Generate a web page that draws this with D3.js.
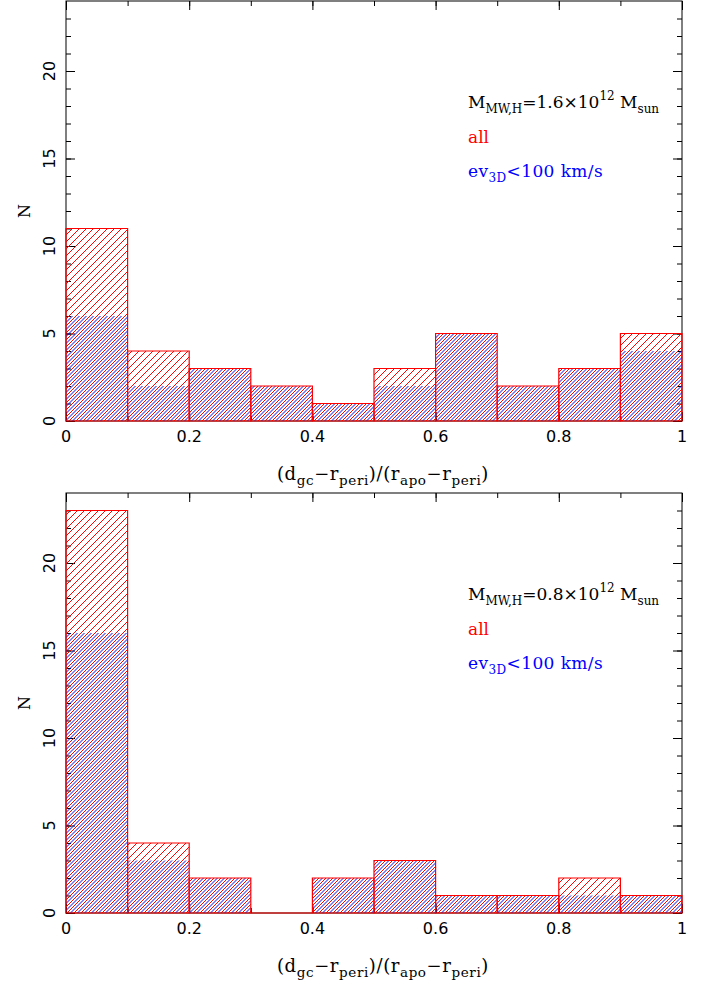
<!DOCTYPE html>
<html>
<head>
<meta charset="utf-8">
<script src="https://cdn.jsdelivr.net/npm/d3@7/dist/d3.min.js"></script>
<style>
  html, body { margin: 0; padding: 0; background: #fff; }
  svg { display: block; }
</style>
</head>
<body>
<svg id="chart" width="708" height="988"></svg>
<script>
// Histogram bins over the normalised orbital phase
const binEdges = [0, 0.1, 0.2, 0.3, 0.4, 0.5, 0.6, 0.7, 0.8, 0.9, 1.0];

// Upper panel: M_MW,H = 1.6e12 Msun
const allHigh = [11, 4, 3, 2, 1, 3, 5, 2, 3, 5];
const lowEvHigh = [6, 2, 3, 2, 1, 2, 5, 2, 3, 4];

// Lower panel: M_MW,H = 0.8e12 Msun
const allLow = [23, 4, 2, 0, 2, 3, 1, 1, 2, 1];
const lowEvLow = [16, 3, 2, 0, 2, 3, 1, 1, 1, 1];

const massLabels = ["1.6", "0.8"];
const xTickLabels = ["0", "0.2", "0.4", "0.6", "0.8", "1"];
const yTickLabels = ["0", "5", "10", "15", "20"];

const svg = d3.select("#chart");
const defs = svg.append("defs");

// Diagonal hatch patterns; blue lines sit halfway between the red ones
function hatch(id, color, offset) {
  const p = defs.append("pattern")
    .attr("id", id)
    .attr("patternUnits", "userSpaceOnUse")
    .attr("width", 7).attr("height", 7)
    .attr("patternTransform", `translate(${offset},0)`);
  p.append("path")
    .attr("d", "M-1,1 L1,-1 M0,7 L7,0 M6,8 L8,6")
    .attr("stroke", color)
    .attr("stroke-width", 1)
    .attr("fill", "none");
}
hatch("hatchRed", "#ff0000", 0);
hatch("hatchBlue", "#0000ff", 3.5);

const panels = [
  { top: 1, bottom: 421, all: allHigh, low: lowEvHigh, mass: massLabels[0] },
  { top: 493, bottom: 913, all: allLow, low: lowEvLow, mass: massLabels[1] }
];

const left = 66, right = 682;
const x = d3.scaleLinear().domain([0, 1]).range([left, right]);

const serif = "'DejaVu Serif', serif";
const sans = "'DejaVu Sans', sans-serif";

panels.forEach(pn => {
  const y = d3.scaleLinear().domain([0, 24]).range([pn.bottom, pn.top]);
  const g = svg.append("g");

  // frame
  g.append("rect")
    .attr("x", left).attr("y", pn.top)
    .attr("width", right - left).attr("height", pn.bottom - pn.top)
    .attr("fill", "none").attr("stroke", "#000").attr("stroke-width", 1);

  // inward ticks on all four sides
  const tickStyle = sel => {
    sel.select(".domain").remove();
    sel.selectAll("line").attr("stroke", "#000").attr("stroke-width", 1);
    sel.selectAll("text").remove();
  };
  const xMajor = d3.range(0, 1.0001, 0.2);
  const xMinor = d3.range(0, 1.0001, 0.1);
  const yMajor = d3.range(0, 24, 5);
  const yMinor = d3.range(0, 24, 1);

  g.append("g").attr("transform", `translate(0,${pn.bottom})`)
    .call(d3.axisBottom(x).tickValues(xMinor).tickSize(-5)).call(tickStyle);
  g.append("g").attr("transform", `translate(0,${pn.bottom})`)
    .call(d3.axisBottom(x).tickValues(xMajor).tickSize(-9)).call(tickStyle);
  g.append("g").attr("transform", `translate(0,${pn.top})`)
    .call(d3.axisTop(x).tickValues(xMinor).tickSize(-5)).call(tickStyle);
  g.append("g").attr("transform", `translate(0,${pn.top})`)
    .call(d3.axisTop(x).tickValues(xMajor).tickSize(-9)).call(tickStyle);
  g.append("g").attr("transform", `translate(${left},0)`)
    .call(d3.axisLeft(y).tickValues(yMinor).tickSize(-5)).call(tickStyle);
  g.append("g").attr("transform", `translate(${left},0)`)
    .call(d3.axisLeft(y).tickValues(yMajor).tickSize(-9)).call(tickStyle);
  g.append("g").attr("transform", `translate(${right},0)`)
    .call(d3.axisRight(y).tickValues(yMinor).tickSize(-5)).call(tickStyle);
  g.append("g").attr("transform", `translate(${right},0)`)
    .call(d3.axisRight(y).tickValues(yMajor).tickSize(-9)).call(tickStyle);

  // tick labels
  g.selectAll(".xl").data(xMajor).enter().append("text")
    .attr("x", d => x(d)).attr("y", pn.bottom + 21)
    .attr("text-anchor", "middle")
    .attr("font-family", sans).attr("font-size", 16)
    .text((d, i) => xTickLabels[i]);
  g.selectAll(".yl").data(yMajor).enter().append("text")
    .attr("transform", d => `translate(55,${y(d)}) rotate(-90)`)
    .attr("text-anchor", "middle")
    .attr("font-family", sans).attr("font-size", 16)
    .text((d, i) => yTickLabels[i]);

  // bins
  const bins = pn.all.map((v, i) => ({ x0: binEdges[i], x1: binEdges[i + 1], all: v, low: pn.low[i] }));
  g.selectAll(".hr").data(bins).enter().append("rect")
    .attr("x", d => x(d.x0)).attr("width", d => x(d.x1) - x(d.x0))
    .attr("y", d => y(d.all)).attr("height", d => y(0) - y(d.all))
    .attr("fill", "url(#hatchRed)");
  g.selectAll(".hb").data(bins).enter().append("rect")
    .attr("x", d => x(d.x0)).attr("width", d => x(d.x1) - x(d.x0))
    .attr("y", d => y(d.low)).attr("height", d => y(0) - y(d.low))
    .attr("fill", "url(#hatchBlue)");
  g.selectAll(".ol").data(bins).enter().append("path")
    .attr("d", d => `M${x(d.x0)},${y(0)} V${y(d.all)} H${x(d.x1)} V${y(0)} Z`)
    .attr("fill", "none").attr("stroke", "#ff0000").attr("stroke-width", 1.2);

  // axis titles
  const xl = g.append("text")
    .attr("x", 277).attr("y", pn.bottom + 59)
    .attr("font-family", serif).attr("font-size", 18)
    .attr("letter-spacing", 0.6);
  const parts = [["(d", 0], ["gc", 1], ["\u2212r", 0], ["peri", 1], [")/(r", 0], ["apo", 1], ["\u2212r", 0], ["peri", 1], [")", 0]];
  let prevSub = 0;
  parts.forEach(([t, sub]) => {
    const ts = xl.append("tspan").text(t);
    if (sub) ts.attr("font-size", 13.5);
    const dy = sub - prevSub;
    if (dy !== 0) ts.attr("dy", dy * 5);
    prevSub = sub;
  });

  g.append("text")
    .attr("transform", `translate(30,${pn.top + 210}) rotate(-90)`)
    .attr("text-anchor", "middle")
    .attr("font-family", serif).attr("font-size", 16)
    .text("N");

  // legend
  const lx = 468;
  const l1 = g.append("text").attr("x", lx).attr("y", pn.top + 107)
    .attr("font-family", serif).attr("font-size", 17).attr("fill", "#000");
  l1.append("tspan").text("M");
  l1.append("tspan").text("MW,H").attr("font-size", 12).attr("dy", 5);
  l1.append("tspan").text("=" + pn.mass + "\u00d710").attr("dy", -5);
  l1.append("tspan").text("12").attr("font-size", 12).attr("dy", -8);
  l1.append("tspan").text(" M").attr("dy", 8);
  l1.append("tspan").text("sun").attr("font-size", 12).attr("dy", 5);

  g.append("text").attr("x", lx).attr("y", pn.top + 142)
    .attr("font-family", serif).attr("font-size", 17).attr("fill", "#ff0000")
    .text("all");

  const l3 = g.append("text").attr("x", lx).attr("y", pn.top + 176)
    .attr("font-family", serif).attr("font-size", 17).attr("fill", "#0000ff")
    .attr("letter-spacing", 0.4);
  l3.append("tspan").text("ev");
  l3.append("tspan").text("3D").attr("font-size", 12).attr("dy", 5);
  l3.append("tspan").text("<100 km/s").attr("dy", -5);
});
</script>
</body>
</html>
